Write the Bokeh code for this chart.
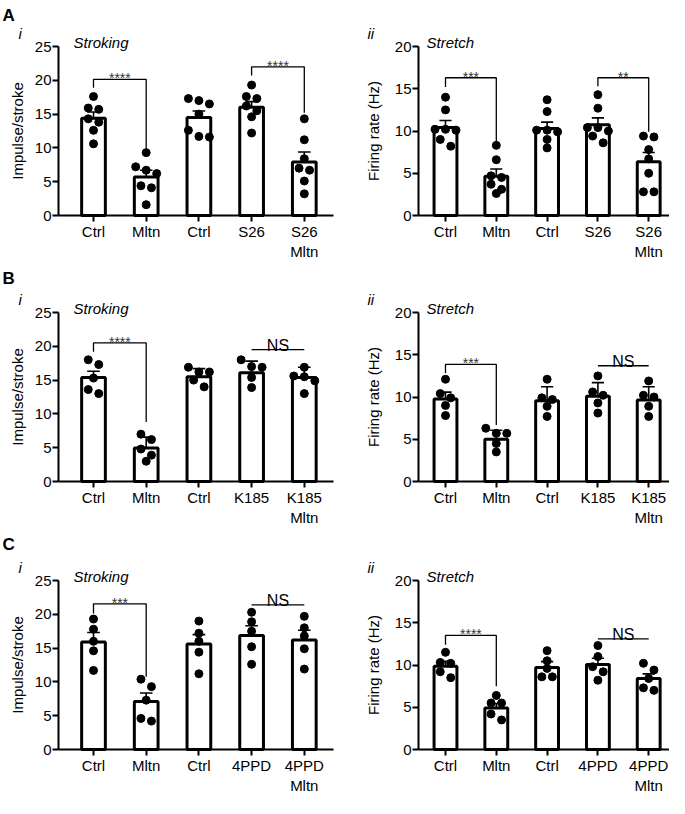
from bokeh.plotting import figure
from bokeh.models import Range1d, FixedTicker
from bokeh.layouts import row, column
from bokeh.core.properties import value
from bokeh.embed import file_html
from bokeh.resources import INLINE

FONT = "Liberation Sans"

# ---------------- data ----------------
a_labels = ["Ctrl", "Mltn", "Ctrl", "S26", "S26\nMltn"]
b_labels = ["Ctrl", "Mltn", "Ctrl", "K185", "K185\nMltn"]
c_labels = ["Ctrl", "Mltn", "Ctrl", "4PPD", "4PPD\nMltn"]

# A i  (Stroking, impulse/stroke)
ai_means = [14.4, 5.7, 14.5, 16.0, 7.9]
ai_sems = [0.9, 1.0, 0.95, 0.85, 1.5]
ai_ctrl = [17.6, 15.9, 15.7, 14.3, 13.8, 12.6, 10.6]
ai_mltn = [9.3, 7.2, 6.7, 6.2, 4.4, 4.1, 1.6]
ai_ctrl2 = [17.3, 17.0, 16.5, 15.0, 12.6, 11.7, 11.6]
ai_drug = [19.3, 17.6, 17.3, 16.2, 15.5, 14.6, 12.2]
ai_drug_mltn = [14.3, 11.2, 8.4, 7.0, 6.7, 5.1, 3.2]
ai_brackets = [(0, 1, 20.15, 18.9, 9.8, "****"), (3, 4, 22.0, 20.7, 15.2, "****")]
ai_ns = []

# A ii (Stretch, firing rate)
aii_means = [10.4, 4.65, 10.3, 10.75, 6.35]
aii_sems = [0.85, 0.85, 0.75, 0.8, 1.1]
aii_ctrl = [14.0, 12.5, 10.2, 10.1, 10.2, 9.0, 8.2]
aii_mltn = [8.3, 6.6, 4.7, 4.5, 3.7, 3.1, 2.6]
aii_ctrl2 = [13.7, 12.3, 10.1, 9.9, 10.1, 9.0, 8.0]
aii_drug = [14.3, 12.7, 10.4, 10.4, 10.0, 9.4, 8.6]
aii_drug_mltn = [9.4, 9.3, 7.8, 6.7, 5.0, 2.8, 2.8]
aii_brackets = [(0, 1, 16.3, 15.2, 8.6, "***"), (3, 4, 16.3, 15.3, 9.9, "**")]
aii_ns = []

# B i
bi_means = [15.4, 4.97, 15.5, 16.1, 15.4]
bi_sems = [0.9, 1.6, 1.2, 1.7, 1.5]
bi_ctrl = [18.0, 17.3, 15.3, 13.6, 13.0]
bi_mltn = [7.0, 6.2, 4.8, 3.9, 3.0]
bi_ctrl2 = [16.9, 16.2, 16.2, 15.0, 14.0]
bi_drug = [18.0, 17.0, 16.9, 15.4, 13.9]
bi_drug_mltn = [16.9, 15.6, 15.5, 14.9, 13.0]
bi_brackets = [(0, 1, 20.5, 19.2, 8.8, "****")]
bi_ns = [(3, 4, 19.5)]

# B ii
bii_means = [9.75, 5.0, 9.55, 10.1, 9.65]
bii_sems = [0.83, 1.06, 1.67, 1.6, 1.57]
bii_ctrl = [12.1, 10.4, 9.9, 9.0, 7.8]
bii_mltn = [6.3, 5.7, 5.7, 4.5, 3.5]
bii_ctrl2 = [12.1, 9.9, 9.7, 8.9, 7.7]
bii_drug = [12.5, 10.6, 10.2, 9.3, 8.1]
bii_drug_mltn = [11.9, 10.2, 10.0, 8.9, 7.7]
bii_brackets = [(0, 1, 13.86, 12.85, 6.7, "***")]
bii_ns = [(3, 4, 13.7)]

# C i
ci_means = [15.9, 7.1, 15.6, 16.85, 16.2]
ci_sems = [1.4, 1.25, 1.4, 1.45, 1.44]
ci_ctrl = [19.3, 17.8, 16.0, 14.6, 11.7]
ci_mltn = [10.4, 9.3, 7.3, 4.6, 4.2]
ci_ctrl2 = [19.0, 17.2, 16.0, 14.4, 11.2]
ci_drug = [20.3, 18.9, 17.5, 15.2, 12.6]
ci_drug_mltn = [19.7, 18.0, 16.8, 14.9, 11.9]
ci_brackets = [(0, 1, 21.55, 20.1, 10.75, "***")]
ci_ns = [(3, 4, 21.4)]

# C ii
cii_means = [9.85, 4.9, 9.7, 10.05, 8.4]
cii_sems = [0.6, 0.55, 0.7, 0.75, 0.55]
cii_ctrl = [11.5, 10.3, 10.2, 9.2, 8.5]
cii_mltn = [6.4, 5.5, 5.5, 4.2, 3.5]
cii_ctrl2 = [11.7, 10.5, 9.6, 8.6, 8.6]
cii_drug = [12.3, 11.0, 9.8, 9.2, 8.2]
cii_drug_mltn = [10.2, 9.4, 8.4, 7.3, 7.0]
cii_brackets = [(0, 1, 13.5, 12.4, 7.5, "****")]
cii_ns = [(3, 4, 13.1)]

# ---------------- layout constants ----------------
FH = 169          # height in px of the value axis
BOT = 48          # room for the category labels
DOT = 8


def swarm(vals, px_per_unit, d=10.5, thr=7.5):
    order = sorted(range(len(vals)), key=lambda k: -vals[k])
    offs = [0.0] * len(vals)
    clusters = []
    for k in order:
        if clusters and (vals[clusters[-1][0]] - vals[k]) * px_per_unit < thr:
            clusters[-1].append(k)
        else:
            clusters.append([k])
    for c in clusters:
        n = len(c)
        for m, k in enumerate(c):
            offs[k] = (m - (n - 1) / 2) * d
    return offs


def make_panel(labels, means, sems, groups, ymax, ylabel, title, roman, letter,
               brackets, ns, left, top_px):
    if left:
        width, axis_px, first_px, px_x = 334, 58, 93.0, 52.7
        x_end_px = 333
        label_standoff = 6
        roman_px, title_px = 18, 73
    else:
        width, axis_px, first_px, px_x = 335, 84, 111.0, 50.8
        x_end_px = 335
        label_standoff = 10
        roman_px, title_px = 33, 92
    height = top_px + FH + BOT
    x0 = -first_px / px_x
    x1 = (width - first_px) / px_x
    upp = ymax / FH                     # data units per pixel
    ytop = ymax + top_px * upp
    ybot = -BOT * upp
    yaxis_at = (axis_px - first_px) / px_x
    p = figure(width=width, height=height, x_range=Range1d(x0, x1),
               y_range=Range1d(ybot, ytop), output_backend="svg",
               toolbar_location=None, title=None, min_border=0)
    p.outline_line_color = None
    p.xgrid.visible = False
    p.ygrid.visible = False

    xs = list(range(len(means)))
    # bars
    p.vbar(x=xs, top=means, bottom=0, width=0.45, fill_color="white",
           line_color="black", line_width=3)
    # error bars (upper SEM)
    tops = [m + s for m, s in zip(means, sems)]
    p.segment(x0=xs, y0=means, x1=xs, y1=tops, line_color="black", line_width=1.6)
    p.segment(x0=[x - 0.12 for x in xs], y0=tops, x1=[x + 0.12 for x in xs], y1=tops,
              line_color="black", line_width=1.6)
    # points
    py = FH / ymax
    px_all, py_all = [], []
    for i, g in enumerate(groups):
        offs = swarm(g, py)
        px_all += [i + o / px_x for o in offs]
        py_all += list(g)
    p.scatter(x=px_all, y=py_all, size=DOT, fill_color="black", line_color="black")
    # significance brackets
    for (i, j, top, lb, rb, lab) in brackets:
        p.line(x=[i, i, j, j], y=[lb, top, top, rb], line_color="black", line_width=1.3)
        p.text(x=[(i + j) / 2], y=[top], text=[lab], text_align="center",
               text_baseline="alphabetic", y_offset=-1, text_color="#333333",
               text_font=value(FONT), text_font_size="14px")
    for (i, j, y) in ns:
        p.line(x=[i, j], y=[y, y], line_color="black", line_width=1.3)
        p.text(x=[(i + j) / 2], y=[y], text=["NS"], text_align="center",
               text_baseline="alphabetic", y_offset=-4, text_color="black",
               text_font=value(FONT), text_font_size="16px")

    # panel texts
    if letter:
        p.text(x=[(2 - first_px) / px_x], y=[ytop - 15 * upp], text=[letter],
               text_align="left", text_baseline="alphabetic", text_font=value(FONT),
               text_font_size="17px", text_font_style=value("bold"), text_color="black")
    p.text(x=[(roman_px - first_px) / px_x], y=[ymax + 13 * upp], text=[roman],
           text_align="left", text_baseline="alphabetic", text_font=value(FONT),
           text_font_size="15px", text_font_style=value("italic"), text_color="black")
    p.text(x=[(title_px - first_px) / px_x], y=[ymax + 4 * upp], text=[title],
           text_align="left", text_baseline="alphabetic", text_font=value(FONT),
           text_font_size="15px", text_font_style=value("italic"), text_color="black")

    # axes (placed inside the frame at fixed data locations)
    p.yaxis.fixed_location = yaxis_at
    p.xaxis.fixed_location = 0
    p.yaxis.bounds = (0, ymax)
    p.xaxis.bounds = (yaxis_at, (x_end_px - first_px) / px_x)
    p.xaxis.ticker = FixedTicker(ticks=xs)
    p.xaxis.major_label_overrides = {i: l for i, l in enumerate(labels)}
    p.yaxis.ticker = FixedTicker(ticks=list(range(0, ymax + 1, 5)))
    p.yaxis.axis_label = ylabel
    p.yaxis.axis_label_text_font_style = "normal"
    p.yaxis.axis_label_text_font = FONT
    p.yaxis.axis_label_text_font_size = "15px"
    p.yaxis.axis_label_text_color = "black"
    p.yaxis.axis_label_standoff = label_standoff
    for ax in (p.xaxis, p.yaxis):
        ax.axis_line_width = 2
        ax.axis_line_color = "black"
        ax.major_tick_line_width = 2
        ax.major_tick_line_color = "black"
        ax.major_tick_out = 6
        ax.major_tick_in = 0
        ax.minor_tick_out = 0
        ax.minor_tick_in = 0
        ax.major_label_text_font = FONT
        ax.major_label_text_font_size = "15px"
        ax.major_label_text_color = "black"
        ax.major_label_standoff = 1
    return p


specs = [
    ("A", 46, a_labels,
     (ai_means, ai_sems, [ai_ctrl, ai_mltn, ai_ctrl2, ai_drug, ai_drug_mltn], ai_brackets, ai_ns),
     (aii_means, aii_sems, [aii_ctrl, aii_mltn, aii_ctrl2, aii_drug, aii_drug_mltn], aii_brackets, aii_ns)),
    ("B", 49, b_labels,
     (bi_means, bi_sems, [bi_ctrl, bi_mltn, bi_ctrl2, bi_drug, bi_drug_mltn], bi_brackets, bi_ns),
     (bii_means, bii_sems, [bii_ctrl, bii_mltn, bii_ctrl2, bii_drug, bii_drug_mltn], bii_brackets, bii_ns)),
    ("C", 51, c_labels,
     (ci_means, ci_sems, [ci_ctrl, ci_mltn, ci_ctrl2, ci_drug, ci_drug_mltn], ci_brackets, ci_ns),
     (cii_means, cii_sems, [cii_ctrl, cii_mltn, cii_ctrl2, cii_drug, cii_drug_mltn], cii_brackets, cii_ns)),
]

rows = []
for letter, top_px, labels, left_d, right_d in specs:
    pl = make_panel(labels, left_d[0], left_d[1], left_d[2], 25, "Impulse/stroke",
                    "Stroking", "i", letter, left_d[3], left_d[4], True, top_px)
    pr = make_panel(labels, right_d[0], right_d[1], right_d[2], 20, "Firing rate (Hz)",
                    "Stretch", "ii", None, right_d[3], right_d[4], False, top_px)
    rows.append(row(pl, pr))

layout = column(*rows)
open("out.html", "w").write(file_html(layout, INLINE))
